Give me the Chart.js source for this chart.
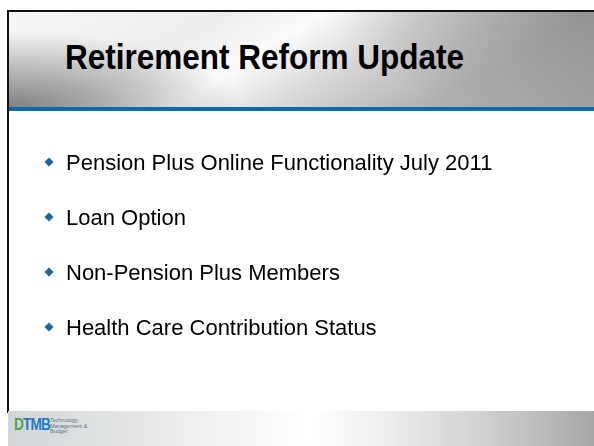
<!DOCTYPE html>
<html>
<head>
<meta charset="utf-8">
<script src="https://cdn.jsdelivr.net/npm/chart.js@4"></script>
<style>
    html, body { margin: 0; padding: 0; background: #fff; }
    #slide { position: relative; width: 594px; height: 446px; overflow: hidden; background: #fff; font-family: "Liberation Sans", Arial, sans-serif; }
    /* black frame line on the left and top */
    #frame { position: absolute; left: 7px; top: 10px; width: 600px; height: 401px; border-left: 2px solid #111; border-top: 2px solid #111; }
    #header {
        position: absolute; left: 9px; top: 12px; width: 585px; height: 95px;
        background:
            radial-gradient(ellipse 230px 75px at 0% 100%, rgba(110,110,110,0.85) 0%, rgba(110,110,110,0) 100%),
            radial-gradient(ellipse 260px 110px at 100% 0%, rgba(125,125,125,0.55) 0%, rgba(125,125,125,0) 100%),
            linear-gradient(148deg, #f6f6f6 0%, #ececec 30%, #fbfbfb 43%, #d6d6d6 58%, #b0b0b0 78%, #a2a2a2 100%);
    }
    #stripe { position: absolute; left: 9px; top: 107px; width: 585px; height: 4px; background: #0b6cab; }
    #title {
        position: absolute; left: 65px; top: 37px; margin: 0;
        font-size: 35px; font-weight: bold; color: #000; white-space: nowrap;
        transform: scaleX(0.9); transform-origin: left top;
    }
    #chartBox { position: absolute; left: 9px; top: 112px; width: 585px; height: 298px; }
    #footer {
        position: absolute; left: 8px; top: 411px; width: 586px; height: 35px;
        background: linear-gradient(90deg, #d3d6d8 0%, #e2e4e5 20%, #f6f6f6 40%, #ffffff 52%, #ececec 65%, #cfcfcf 82%, #a7a7a7 100%);
    }
    #logoMark {
        position: absolute; left: 14px; top: 417px; white-space: nowrap;
        font-size: 16px; font-weight: bold; letter-spacing: -1px; color: #1d7bc2; line-height: 16px;
        transform: scaleX(0.85); transform-origin: left top;
    }
    #logoMark span { color: #45a84a; }
    #logoWords { position: absolute; left: 50px; top: 418px; font-size: 5.5px; line-height: 5.5px; color: #5f7282; white-space: nowrap; }
</style>
</head>
<body>
<div id="slide">
    <div id="frame"></div>
    <div id="header"></div>
    <div id="stripe"></div>
    <h1 id="title"></h1>
    <div id="chartBox"><canvas id="bulletChart"></canvas></div>
    <div id="footer"></div>
    <div id="logoMark"><span>D</span>TMB</div>
    <div id="logoWords">Technology,<br>Management &amp;<br>Budget</div>
</div>
<script>
    // Slide content
    const slideTitle = 'Retirement Reform Update';
    const bulletItems = [
        'Pension Plus Online Functionality July 2011',
        'Loan Option',
        'Non-Pension Plus Members',
        'Health Care Contribution Status'
    ];
    // one marker per bullet row: x is the marker column, y is the row index
    const bulletColumn = [0, 0, 0, 0];
    const bulletRows = [0, 1, 2, 3];

    document.getElementById('title').textContent = slideTitle;

    const bulletColor = '#1666a6';

    // writes each bullet's text next to its diamond marker
    const bulletText = {
        id: 'bulletText',
        afterDatasetsDraw(chart) {
            const ctx = chart.ctx;
            const meta = chart.getDatasetMeta(0);
            ctx.save();
            ctx.fillStyle = '#000';
            ctx.font = '22px "Liberation Sans", Arial, sans-serif';
            ctx.textBaseline = 'middle';
            ctx.textAlign = 'left';
            meta.data.forEach((pt, i) => {
                ctx.fillText(bulletItems[i], pt.x + 17, pt.y + 2);
            });
            ctx.restore();
        }
    };

    new Chart(document.getElementById('bulletChart'), {
        type: 'scatter',
        data: {
            labels: bulletItems,
            datasets: [{
                data: bulletRows.map((r, i) => ({ x: bulletColumn[i], y: r })),
                pointStyle: 'rectRot',
                pointRadius: 4.5,
                backgroundColor: bulletColor,
                borderColor: bulletColor,
                borderWidth: 0,
                clip: false
            }]
        },
        options: {
            responsive: true,
            maintainAspectRatio: false,
            animation: false,
            events: [],
            layout: { padding: { left: 40, right: 20, top: 50, bottom: 83 } },
            scales: {
                x: { display: false, min: 0, max: 1 },
                y: { display: false, min: 0, max: bulletItems.length - 1, reverse: true }
            },
            plugins: {
                legend: { display: false },
                tooltip: { enabled: false }
            }
        },
        plugins: [bulletText]
    });
</script>
</body>
</html>
